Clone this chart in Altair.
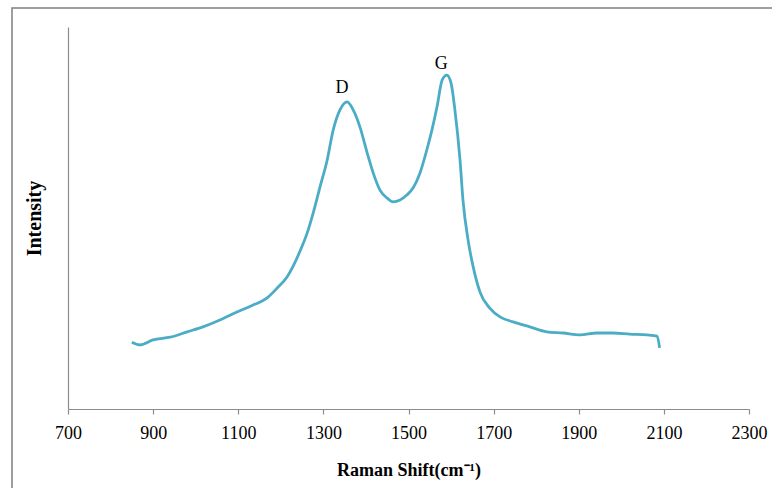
import altair as alt
import pandas as pd

# Raman spectrum
shift = [850, 869, 900, 940, 980, 1017, 1057, 1097, 1135, 1168,
         1191, 1215, 1229, 1245, 1262, 1276, 1292, 1309, 1323, 1339,
         1356, 1370, 1386, 1403, 1417, 1433, 1450, 1464, 1480, 1496,
         1511, 1527, 1543, 1555, 1567, 1579, 1590, 1600, 1609, 1621,
         1628, 1640, 1652, 1668, 1691, 1715, 1746, 1785, 1825, 1863,
         1903, 1943, 1980, 2020, 2060, 2084, 2090]
intensity = [17.5, 16.8, 18.1, 18.8, 20.2, 21.5, 23.3, 25.4, 27.2, 29.1,
             31.6, 34.6, 37.4, 41.3, 46.1, 51.3, 58.1, 65.2, 73.0, 78.3,
             80.4, 78.3, 73.8, 67.0, 61.8, 57.3, 55.2, 54.2, 54.7, 56.0,
             57.9, 61.8, 67.8, 73.0, 79.1, 86.1, 87.4, 85.3, 78.3, 65.2,
             54.7, 44.2, 37.2, 30.6, 26.4, 24.1, 22.8, 21.5, 20.2, 19.9,
             19.4, 19.9, 19.9, 19.6, 19.4, 19.1, 16.0]

peak_labels = ["D", "G"]
peak_x = [1344, 1577]
peak_y = [84.0, 90.3]

x_ticks = [700, 900, 1100, 1300, 1500, 1700, 1900, 2100, 2300]

df = pd.DataFrame({"shift": shift, "intensity": intensity})
lab = pd.DataFrame({"label": peak_labels, "x": peak_x, "y": peak_y})

SERIF = "Liberation Serif"
GREY = "#8c8c8c"

x_enc = alt.X("shift:Q",
              scale=alt.Scale(domain=[700, 2300], nice=False, zero=False),
              axis=alt.Axis(values=x_ticks, format="d", title="Raman Shift(cm⁻¹)", grid=False,
                            domainColor=GREY, domainWidth=1.2,
                            tickColor=GREY, tickSize=5, tickWidth=1.2,
                            labelFont=SERIF, labelFontSize=18, labelColor="black",
                            labelPadding=10, labelFlush=False,
                            titleFont=SERIF, titleFontSize=18, titleFontWeight="bold",
                            titleColor="black", titlePadding=19))
y_enc = alt.Y("intensity:Q",
              scale=alt.Scale(domain=[0, 100], nice=False, zero=False),
              axis=alt.Axis(title="Intensity", grid=False, labels=False, ticks=False,
                            domainColor=GREY, domainWidth=1.2, minExtent=0,
                            titleFont=SERIF, titleFontSize=20, titleFontWeight="bold",
                            titleColor="black", titlePadding=24))

line = alt.Chart(df).mark_line(color="#4BACC6", strokeWidth=2.8,
                               interpolate="monotone").encode(x=x_enc, y=y_enc)

text = alt.Chart(lab).mark_text(font=SERIF, fontSize=18, color="black",
                                baseline="middle", align="center").encode(
    x=alt.X("x:Q"), y=alt.Y("y:Q"), text="label:N")

frame = alt.Chart(pd.DataFrame({"a": [0]})).mark_rect(
    fill="transparent", stroke="#7f7f7f", strokeWidth=1.5).encode(
    x=alt.value(-56), y=alt.value(-19), x2=alt.value(800), y2=alt.value(520))

chart = alt.layer(frame, line, text).properties(
    width=681, height=382,
    autosize=alt.AutoSizeParams(type="none"),
    padding={"left": 68, "top": 27, "right": 23, "bottom": 79},
    background="white",
).configure_view(stroke=None)

chart.save("out.html", embed_options={"renderer": "svg", "actions": False})
